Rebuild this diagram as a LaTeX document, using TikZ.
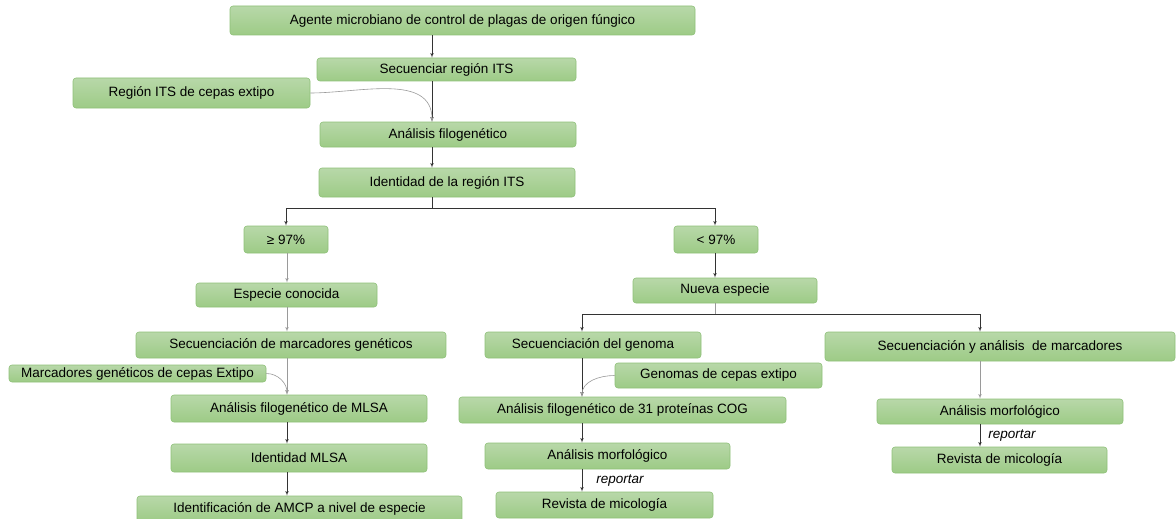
\documentclass[tikz,border=0pt]{standalone}
\usepackage{fontspec}
\setmainfont{Liberation Sans}
\usepackage{tikz}
\usetikzlibrary{arrows,positioning}
\definecolor{verdeA}{HTML}{B8D8A9}
\definecolor{verdeB}{HTML}{9DCB86}
\definecolor{verdeL}{HTML}{8EC078}
\definecolor{grisF}{HTML}{9A9A9A}
\tikzset{
	cajanodo/.style = {align=center, inner sep=0pt, text centered,
		font=\fontsize{13.5}{16}\selectfont},
	caja_v/.style = {cajanodo, rectangle, rounded corners=3pt, draw=verdeL,
		top color=verdeA, bottom color=verdeB, line width=0.6pt},% caja verde
	flecha_n/.style = {->, draw=black!80, line width=0.6pt},% flecha oscura
	flecha_g/.style = {->, draw=grisF, line width=0.6pt},% flecha gris
	etiq/.style = {cajanodo, font=\fontsize{13.5}{16}\selectfont\itshape}% etiqueta de flecha
}

\begin{document}
\begin{tikzpicture}[x=1pt,y=-1pt,>=latex']
\useasboundingbox (0,0) rectangle (1176,519);
\coordinate (ejeA) at (432,0);
\coordinate (ejeB) at (287,0);
\coordinate (ejeC) at (715,0);
\coordinate (ejeD) at (582,0);
\coordinate (ejeE) at (980,0);

\node[caja_v, minimum width=465pt, minimum height=29pt] (agente) at (462.5,20.5) {Agente microbiano de control de plagas de origen fúngico};
\node[caja_v, minimum width=259pt, minimum height=23pt] (secits) at (446.5,69.5) {Secuenciar región ITS};
\node[caja_v, minimum width=237pt, minimum height=30pt] (regits) at (191.5,93) {Región ITS de cepas extipo};
\node[caja_v, minimum width=256pt, minimum height=25pt] (analisis) at (448,134.5) {Análisis filogenético};
\node[caja_v, minimum width=256pt, minimum height=29pt] (ident) at (447,182.5) {Identidad de la región ITS};
\node[caja_v, minimum width=84pt, minimum height=27pt] (mayor) at (286,239.5) {≥ 97\%};
\node[caja_v, minimum width=84pt, minimum height=27pt] (menor) at (716,239.5) {< 97\%};

% rama izquierda
\node[caja_v, minimum width=181pt, minimum height=24pt] (especie) at (286.5,295) {Especie conocida};
\node[caja_v, minimum width=310pt, minimum height=26pt] (secmarc) at (291,345) {Secuenciación de marcadores genéticos};
\node[caja_v, minimum width=257pt, minimum height=17pt] (marcext) at (137.5,373.5) {Marcadores genéticos de cepas Extipo};
\node[caja_v, minimum width=256pt, minimum height=27pt] (mlsa) at (299,408.5) {Análisis filogenético de MLSA};
\node[caja_v, minimum width=256pt, minimum height=28pt] (idmlsa) at (299,458) {Identidad MLSA};
\node[caja_v, minimum width=325pt, minimum height=26pt] (amcp) at (299.5,509) {Identificación de AMCP a nivel de especie};

% rama derecha
\node[caja_v, minimum width=184pt, minimum height=25pt] (nueva) at (725,290.5) {Nueva especie};
\node[caja_v, minimum width=216pt, minimum height=26pt] (genoma) at (593,345) {Secuenciación del genoma};
\node[caja_v, minimum width=350pt, minimum height=29pt] (marcadores) at (1000,346.5) {Secuenciación y análisis \ de marcadores};
\node[caja_v, minimum width=207pt, minimum height=25pt] (genext) at (718.5,375.5) {Genomas de cepas extipo};
\node[caja_v, minimum width=327pt, minimum height=26pt] (cog) at (622.5,410) {Análisis filogenético de 31 proteínas COG};
\node[caja_v, minimum width=245pt, minimum height=26pt] (morf1) at (607.5,456) {Análisis morfológico};
\node[caja_v, minimum width=217pt, minimum height=26pt] (rev1) at (604.5,505) {Revista de micología};
\node[caja_v, minimum width=246pt, minimum height=25pt] (morf2) at (1000,411.5) {Análisis morfológico};
\node[caja_v, minimum width=215pt, minimum height=26pt] (rev2) at (999.5,460) {Revista de micología};

\draw[flecha_n] (agente.south -| ejeA) -- (secits.north -| ejeA);
\draw[flecha_n] (secits.south -| ejeA) -- (analisis.north -| ejeA);
\draw[flecha_g] (regits.east) to[out=0,in=90] (analisis.north -| ejeA);
\draw[flecha_n] (analisis.south -| ejeA) -- (ident.north -| ejeA);
\coordinate (rama1) at (432,208);
\draw[black!80, line width=0.6pt] (ident.south -| ejeA) -- (rama1);
\draw[flecha_n] (rama1) -| (mayor.north);
\draw[flecha_n] (rama1) -| (menor.north -| ejeC);

\draw[flecha_g] (mayor.south -| ejeB) -- (especie.north -| ejeB);
\draw[flecha_g] (especie.south -| ejeB) -- (secmarc.north -| ejeB);
\draw[flecha_g] (secmarc.south -| ejeB) -- (mlsa.north -| ejeB);
\draw[flecha_g] (marcext.east) to[out=0,in=90] (mlsa.north -| ejeB);
\draw[flecha_n] (mlsa.south -| ejeB) -- (idmlsa.north -| ejeB);
\draw[flecha_n] (idmlsa.south -| ejeB) -- (amcp.north -| ejeB);

\draw[flecha_n] (menor.south -| ejeC) -- (nueva.north -| ejeC);
\coordinate (rama2) at (715,314);
\draw[grisF, line width=0.6pt] (nueva.south -| ejeC) -- (rama2);
\draw[flecha_n] (rama2) -| (genoma.north -| ejeD);
\draw[flecha_n] (rama2) -| (marcadores.north -| ejeE);
\draw[flecha_n] (genoma.south -| ejeD) -- (cog.north -| ejeD);
\draw[flecha_g] (genext.west) to[out=180,in=90] (cog.north -| ejeD);
\draw[flecha_n] (cog.south -| ejeD) -- (morf1.north -| ejeD);
\draw[flecha_n] (morf1.south -| ejeD) -- node[etiq, right=14pt] {reportar} (rev1.north -| ejeD);
\draw[flecha_g] (marcadores.south -| ejeE) -- (morf2.north -| ejeE);
\draw[flecha_n] (morf2.south -| ejeE) -- node[etiq, right=8pt] {reportar} (rev2.north -| ejeE);
\end{tikzpicture}
\end{document}
